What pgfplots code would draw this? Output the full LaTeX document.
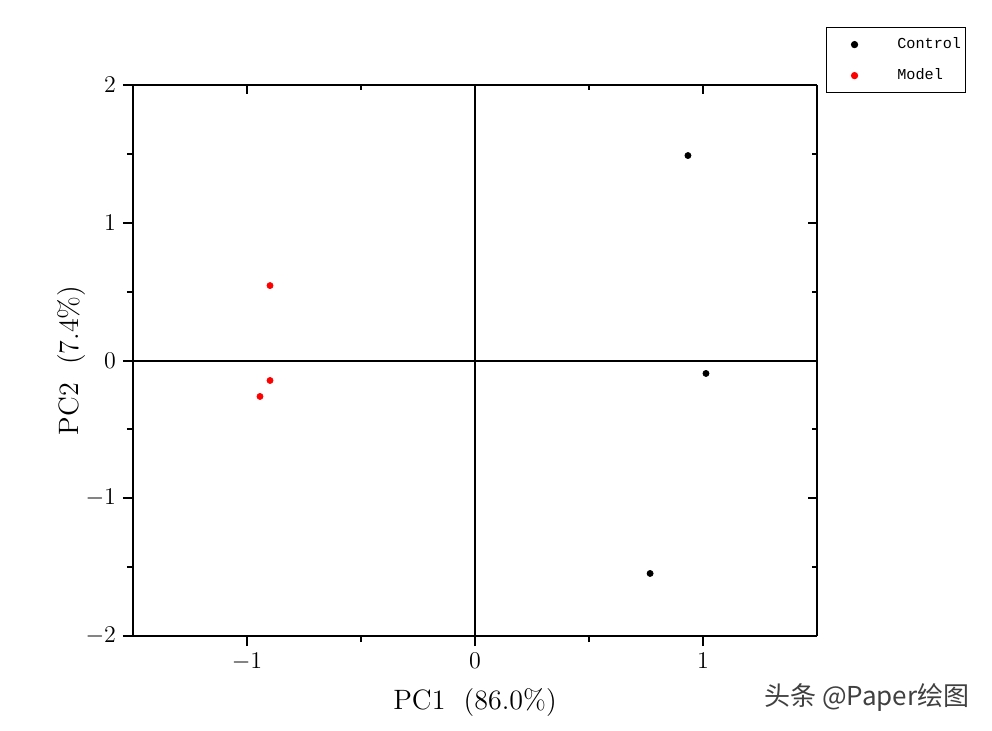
\documentclass[border=0pt]{standalone}
\usepackage{pgfplots}
\pgfplotsset{compat=1.18}
\usepackage{fontspec}
\newfontfamily\legfont{Liberation Mono}
\newfontfamily\cjk{Noto Sans CJK SC}
\begin{document}
\begin{tikzpicture}
\path[use as bounding box] (-66.5pt,-47pt) rectangle (429.5pt,318pt);
% top/right axis with inward ticks
\begin{axis}[
  at={(0,0)}, anchor=south west,
  scale only axis, width=342pt, height=275.5pt,
  xmin=-1.5, xmax=1.5, ymin=-2, ymax=2,
  axis x line*=top, axis y line*=right,
  axis line style={line width=1pt, -},
  xtick={-1,0,1}, ytick={-2,-1,0,1,2},
  minor x tick num=1, minor y tick num=1,
  tick align=inside,
  major tick length=4.5pt, minor tick length=2.5pt,
  tick style={line width=1pt, black},
  xticklabels={}, yticklabels={},
]
\addplot[draw=none] coordinates {(0,0)};
\end{axis}
\begin{axis}[
  at={(0,0)}, anchor=south west,
  scale only axis, width=342pt, height=275.5pt,
  xmin=-1.5, xmax=1.5, ymin=-2, ymax=2,
  axis x line*=bottom, axis y line*=left,
  axis line style={line width=1pt, -},
  xtick={-1,0,1}, ytick={-2,-1,0,1,2},
  minor x tick num=1, minor y tick num=1,
  tick align=outside,
  major tick length=5pt, minor tick length=3pt,
  tick style={line width=1pt, black},
  tick label style={font=\fontsize{12}{14}\selectfont},
  xlabel={PC1\ \ (86.0\%)}, ylabel={PC2\ \ (7.4\%)},
  label style={font=\fontsize{14}{16}\selectfont},
  xlabel style={at={(0.5,-0.1216)}, anchor=center},
  ylabel style={at={(-0.0892,0.5)}, anchor=center, rotate=0},
  legend style={at={(1.0132,1.1053)}, anchor=north west, draw=black, line width=0.6pt,
    font=\legfont\fontsize{7.6}{9}\selectfont, row sep=4.5pt, inner xsep=0pt, inner ysep=3pt},
  legend cell align=left,
  legend image code/.code={\draw[#1] (0.48cm,0cm) circle[radius=1.5pt]; \path (0cm,0cm) (1.15cm,0cm);},
  clip=false,
]
\draw[line width=1pt] (axis cs:-1.5,0) -- (axis cs:1.5,0);
\draw[line width=1pt] (axis cs:0,-2) -- (axis cs:0,2);
\addplot[only marks, mark=*, mark size=1.5pt, draw=black, fill=black] coordinates {
  (0.934,1.488) (1.013,-0.094) (0.768,-1.546)};
\addlegendentry{Control}
\addplot[only marks, mark=*, mark size=1.5pt, draw=red, fill=red] coordinates {
  (-0.899,0.544) (-0.899,-0.145) (-0.943,-0.261)};
\addlegendentry{Model}
\node[font=\cjk\fontsize{13}{15}\selectfont, text=black!75] at (rel axis cs:1.073,-0.111) {头条 @Paper绘图};
\end{axis}
\end{tikzpicture}
\end{document}
